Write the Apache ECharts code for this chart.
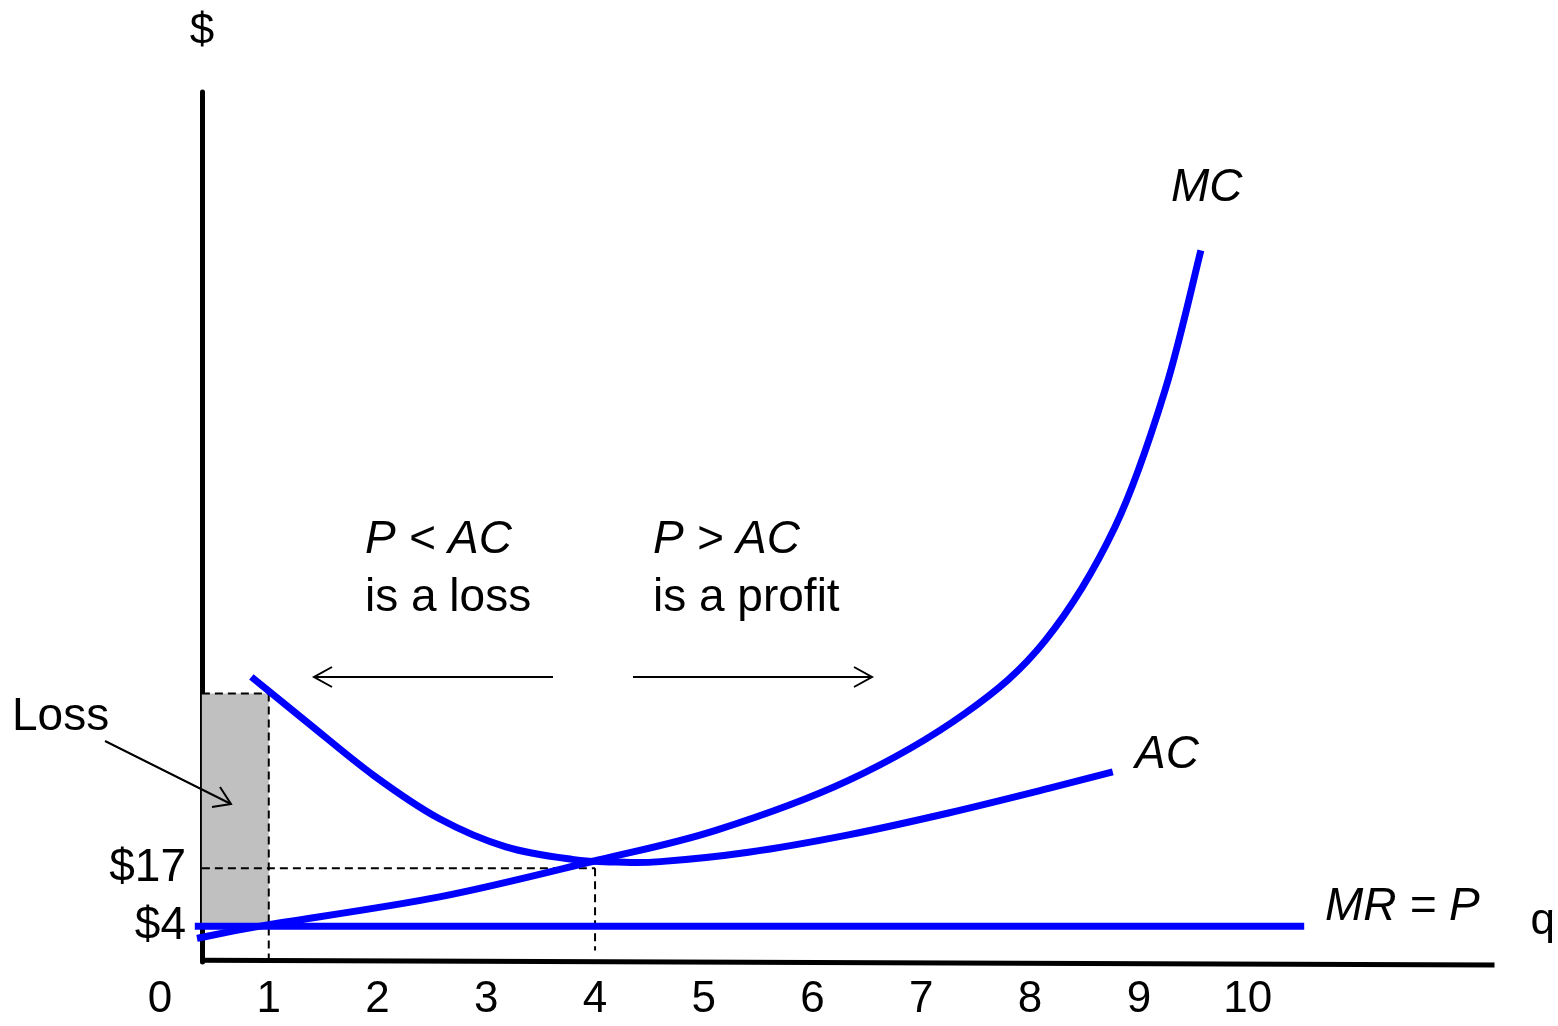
<!DOCTYPE html>
<html><head><meta charset="utf-8">
<script src="https://cdn.jsdelivr.net/npm/echarts@6/dist/echarts.min.js"></script>
<style>html,body{margin:0;padding:0;background:#fff}#c{width:1558px;height:1026px}</style>
</head><body><div id="c"></div>
<script>
// ---- data ----
const qTicks = [0, 1, 2, 3, 4, 5, 6, 7, 8, 9, 10];
const priceTicks = [4, 17];
const mcQ = [0.34, 0.96, 2.57, 4.02, 5.11, 6.33, 7.40, 8.14, 8.78, 9.24, 9.57];
const mcV = [1.3, 4.2, 10.6, 18.8, 25.5, 36.7, 51.7, 68.1, 93.5, 124.1, 155.5];
const acQ = [0.84, 1.35, 1.96, 2.57, 3.18, 3.79, 4.20, 4.60, 5.41, 6.33, 7.25, 8.17, 8.76];
const acV = [59.9, 49.8, 37.9, 28.1, 21.8, 19.0, 18.4, 18.5, 20.6, 24.5, 29.4, 34.9, 38.6];
const mrQ = [0.32, 10.52];
const price = 4;
const lossQ = 1;
const acAtLossQ = 56.2;
const minAcQ = 4;
const minAcPrice = 17;

// axis extents
const X_MIN = 0, X_MAX = 12.27, Y_MIN = -4, Y_MAX = 191;
const yAxisQ = 0.385;        // where the vertical axis stands
const xAxisV = [-3.6, -4.65]; // slight tilt of the horizontal axis

const FONT = '"Liberation Sans", Arial, sans-serif';
const BLUE = '#0000FF';

function zip(a, b) { return a.map((v, i) => [v, b[i]]); }
function dashed(points) {
  return { type: 'line', data: points, symbol: 'none', silent: true, clip: false,
    lineStyle: { color: '#000', width: 2, type: [8, 5] }, z: 3 };
}
// smooth curve through the data points (Catmull-Rom -> cubic Bezier), positioned by the axes
function curve(name, data) {
  return {
    name: name, type: 'custom', data: data, z: 5, silent: true,
    renderItem: function (params, api) {
      if (params.dataIndex !== 0) return null;
      const p = data.map(d => api.coord(d));
      let path = 'M' + p[0][0] + ' ' + p[0][1];
      for (let i = 0; i < p.length - 1; i++) {
        const p0 = p[Math.max(0, i - 1)], p1 = p[i], p2 = p[i + 1], p3 = p[Math.min(p.length - 1, i + 2)];
        const c1 = [p1[0] + (p2[0] - p0[0]) / 6, p1[1] + (p2[1] - p0[1]) / 6];
        const c2 = [p2[0] - (p3[0] - p1[0]) / 6, p2[1] - (p3[1] - p1[1]) / 6];
        path += ' C' + c1[0] + ' ' + c1[1] + ' ' + c2[0] + ' ' + c2[1] + ' ' + p2[0] + ' ' + p2[1];
      }
      return { type: 'path', shape: { pathData: path },
        style: { stroke: BLUE, lineWidth: 7, fill: null, lineCap: 'butt' } };
    }
  };
}
function txt(x, y, s, italic) {
  return { type: 'text', x: x, y: y, z: 100,
    style: { text: s, font: (italic ? 'italic ' : '') + '46px ' + FONT, fill: '#000', align: 'left', verticalAlign: 'middle' } };
}
function seg(x1, y1, x2, y2) {
  return { type: 'line', z: 100, shape: { x1: x1, y1: y1, x2: x2, y2: y2 }, style: { stroke: '#000', lineWidth: 2 } };
}
function head(pts) {
  return { type: 'polyline', z: 100, shape: { points: pts }, style: { stroke: '#000', lineWidth: 2, fill: null } };
}

const chart = echarts.init(document.getElementById('c'), null, { renderer: 'canvas' });
chart.setOption({
  animation: false,
  backgroundColor: '#fff',
  grid: { left: 160, right: 61, top: 92, bottom: 64 },
  xAxis: {
    type: 'value', min: X_MIN, max: X_MAX,
    axisLine: { show: false }, axisTick: { show: false }, splitLine: { show: false },
    axisLabel: { customValues: qTicks, fontSize: 44, color: '#000', fontFamily: FONT, margin: 16 },
    name: 'q', nameLocation: 'end', nameGap: 36,
    nameTextStyle: { fontSize: 44, color: '#000', fontFamily: FONT, verticalAlign: 'bottom', align: 'left' }
  },
  yAxis: {
    type: 'value', min: Y_MIN, max: Y_MAX, offset: -42,
    axisLine: { show: true, lineStyle: { color: '#000', width: 5 } },
    axisTick: { show: false }, splitLine: { show: false },
    axisLabel: { customValues: priceTicks, formatter: v => '$' + v, fontSize: 46, color: '#000', fontFamily: FONT, margin: 16 },
    name: '$', nameLocation: 'end', nameGap: 38,
    nameTextStyle: { fontSize: 44, color: '#000', fontFamily: FONT, align: 'center' }
  },
  series: [
    { // loss rectangle + its dashed top edge
      type: 'line', symbol: 'none', silent: true, clip: false, z: 3,
      data: [[yAxisQ, acAtLossQ], [lossQ, acAtLossQ]],
      lineStyle: { color: '#000', width: 2, type: [8, 5] },
      markArea: { silent: true, itemStyle: { color: '#c0c0c0' },
        data: [[{ coord: [yAxisQ, price] }, { coord: [lossQ, acAtLossQ] }]] }
    },
    dashed([[lossQ, acAtLossQ], [lossQ, xAxisV[1]]]),
    dashed([[yAxisQ, minAcPrice], [minAcQ, minAcPrice]]),
    dashed([[minAcQ, minAcPrice], [minAcQ, -1.4]]),
    { type: 'line', data: [[yAxisQ, xAxisV[0]], [X_MAX, xAxisV[1]]], symbol: 'none', silent: true, clip: false,
      lineStyle: { color: '#000', width: 5 }, z: 4 },
    { name: 'MR = P', type: 'line', data: mrQ.map(q => [q, price]), symbol: 'none', clip: false,
      lineStyle: { color: BLUE, width: 7 }, z: 5 },
    curve('AC', zip(acQ, acV)),
    curve('MC', zip(mcQ, mcV))
  ],
  graphic: [
    txt(12, 717, 'Loss'),
    txt(365, 540, 'P < AC', true),
    txt(365, 598, 'is a loss'),
    txt(653, 540, 'P > AC', true),
    txt(653, 598, 'is a profit'),
    txt(1171, 188, 'MC', true),
    txt(1135, 755, 'AC', true),
    txt(1325, 907, 'MR = P', true),
    seg(553, 677, 314, 677), head([[332, 667], [314, 677], [332, 687]]),
    seg(633, 677, 872, 677), head([[854, 667], [872, 677], [854, 687]]),
    seg(105, 741, 231, 804), head([[220, 787], [231, 804], [212, 807]])
  ]
});
</script>
</body></html>
